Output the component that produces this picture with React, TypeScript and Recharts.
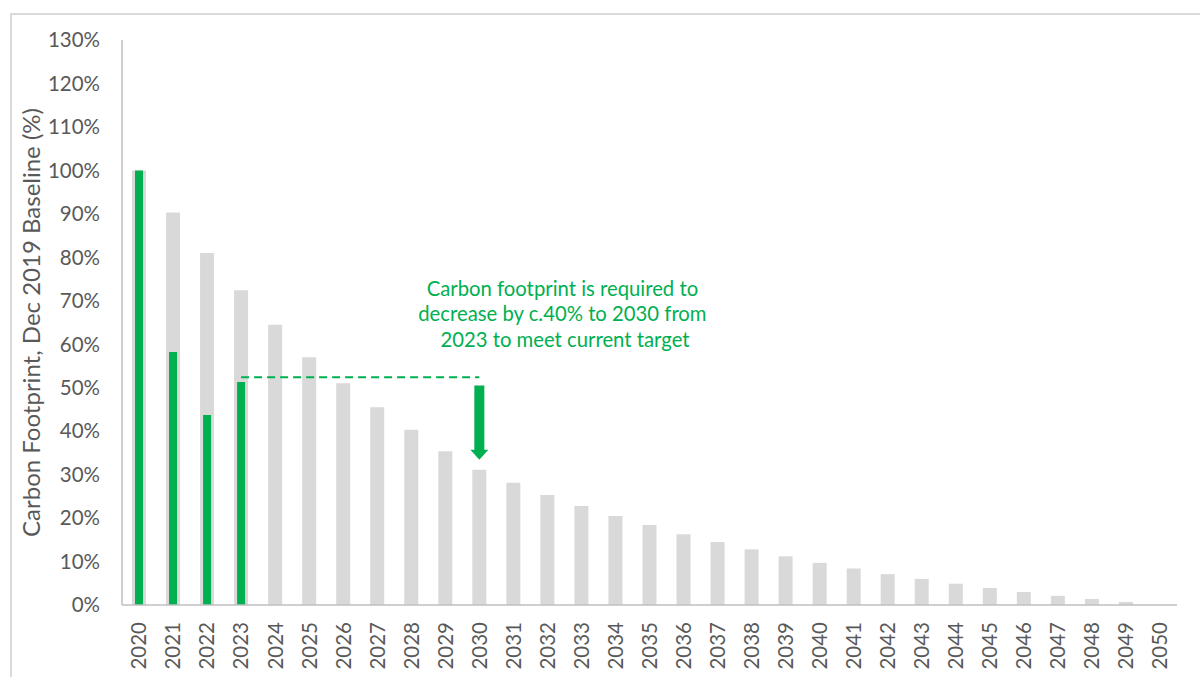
import { BarChart, Bar, XAxis, YAxis, ReferenceLine, ReferenceDot, Label } from 'recharts';

// categories
const years = [
  '2020', '2021', '2022', '2023', '2024', '2025', '2026', '2027', '2028', '2029', '2030',
  '2031', '2032', '2033', '2034', '2035', '2036', '2037', '2038', '2039', '2040',
  '2041', '2042', '2043', '2044', '2045', '2046', '2047', '2048', '2049', '2050',
];

// target trajectory (grey bars), % of Dec 2019 baseline
const targetPath = [
  100, 90.3, 81.0, 72.4, 64.5, 57.0, 51.0, 45.5, 40.3, 35.4, 31.1,
  28.1, 25.3, 22.8, 20.5, 18.4, 16.3, 14.5, 12.8, 11.2, 9.7,
  8.4, 7.1, 6.0, 4.9, 3.9, 3.0, 2.1, 1.4, 0.7, 0,
];

// actual footprint (green bars)
const actual = [100, 58.2, 43.7, 51.3];

const yTicks = [0, 10, 20, 30, 40, 50, 60, 70, 80, 90, 100, 110, 120, 130];

const gapLevel = 52.4;
const arrowFrom = 50.5;
const arrowTo = 33.4;
const noteAnchor = { year: '2032', level: 71.1 };
const noteLines = [
  'Carbon footprint is required to',
  'decrease by c.40% to 2030 from',
  ' 2023 to meet current target',
];

const GREEN = '#00b050';
const GREY = '#d9d9d9';
const AXIS = '#bfbfbf';
const TEXT = '#595959';
const FONT = 'Lato, "Open Sans", sans-serif';

const data = years.map((year, i) => ({
  year,
  target: targetPath[i],
  actual: i < actual.length ? actual[i] : null,
}));

function YearTick(props: any) {
  const { x, y, payload } = props;
  return (
    <text
      x={x}
      y={y}
      dy="0.36em"
      transform={`rotate(-90, ${x}, ${y})`}
      textAnchor="end"
      fill={TEXT}
      fontSize={20.5}
      fontFamily={FONT}
    >
      {payload.value}
    </text>
  );
}

function Arrow(props: any) {
  const { x1, y1, y2 } = props;
  const shaft = 5;
  const head = 9;
  const headLen = 10;
  const pts = [
    [x1 - shaft, y1],
    [x1 + shaft, y1],
    [x1 + shaft, y2 - headLen],
    [x1 + head, y2 - headLen],
    [x1, y2],
    [x1 - head, y2 - headLen],
    [x1 - shaft, y2 - headLen],
  ]
    .map((p) => p.join(','))
    .join(' ');
  return <polygon points={pts} fill={GREEN} />;
}

function Note(props: any) {
  const { cx, cy } = props;
  return (
    <text x={cx + 15} y={cy} textAnchor="middle" fill={GREEN} fontSize={20.3} fontFamily={FONT}>
      {noteLines.map((line, i) => (
        <tspan key={i} x={cx + 15} dy={i === 0 ? 0 : 25.5} style={{ whiteSpace: 'pre' }}>
          {line}
        </tspan>
      ))}
    </text>
  );
}

export default function App() {
  return (
    <div style={{ position: 'absolute', left: 0, top: 0, width: 1200, height: 677, background: '#fff', overflow: 'hidden' }}>
      <div
        style={{
          position: 'absolute',
          left: 10,
          top: 13,
          width: 1300,
          height: 800,
          borderTop: `2px solid ${GREY}`,
          borderLeft: `2px solid ${GREY}`,
        }}
      />
      <div style={{ position: 'absolute', left: 0, top: 0 }}>
        <BarChart width={1200} height={677} data={data} margin={{ top: 40, right: 23, left: 0, bottom: 0 }}>
          <XAxis
            dataKey="year"
            xAxisId="main"
            height={72}
            interval={0}
            tickSize={0}
            tickMargin={17}
            tickLine={false}
            axisLine={{ stroke: AXIS, strokeWidth: 1.5 }}
            tick={<YearTick />}
          />
          <XAxis dataKey="year" xAxisId="overlay" hide />
          <YAxis
            width={122}
            domain={[0, 130]}
            ticks={yTicks}
            interval={0}
            tickFormatter={(v) => `${v}%`}
            tickSize={0}
            tickMargin={22}
            tickLine={false}
            axisLine={{ stroke: AXIS, strokeWidth: 1.5 }}
            tick={{ fill: TEXT, fontSize: 20.5, fontFamily: FONT }}
          >
            <Label
              content={(p: any) => {
                const vb = p.viewBox;
                const cy = vb.y + vb.height / 2;
                return (
                  <text
                    x={31}
                    y={cy}
                    transform={`rotate(-90, 31, ${cy})`}
                    textAnchor="middle"
                    dy="0.36em"
                    fill={TEXT}
                    fontSize={24}
                    fontFamily={FONT}
                  >
                    Carbon Footprint, Dec 2019 Baseline (%)
                  </text>
                );
              }}
            />
          </YAxis>
          <Bar dataKey="target" xAxisId="main" fill={GREY} barSize={14} isAnimationActive={false} />
          <Bar dataKey="actual" xAxisId="overlay" fill={GREEN} barSize={8} isAnimationActive={false} />
          <ReferenceLine
            xAxisId="main"
            segment={[
              { x: '2023', y: gapLevel },
              { x: '2030', y: gapLevel },
            ]}
            stroke={GREEN}
            strokeWidth={2}
            strokeDasharray="8 5"
          />
          <ReferenceLine
            xAxisId="main"
            segment={[
              { x: '2030', y: arrowFrom },
              { x: '2030', y: arrowTo },
            ]}
            shape={<Arrow />}
          />
          <ReferenceDot
            xAxisId="main"
            x={noteAnchor.year}
            y={noteAnchor.level}
            r={0}
            shape={<Note />}
          />
        </BarChart>
      </div>
    </div>
  );
}
